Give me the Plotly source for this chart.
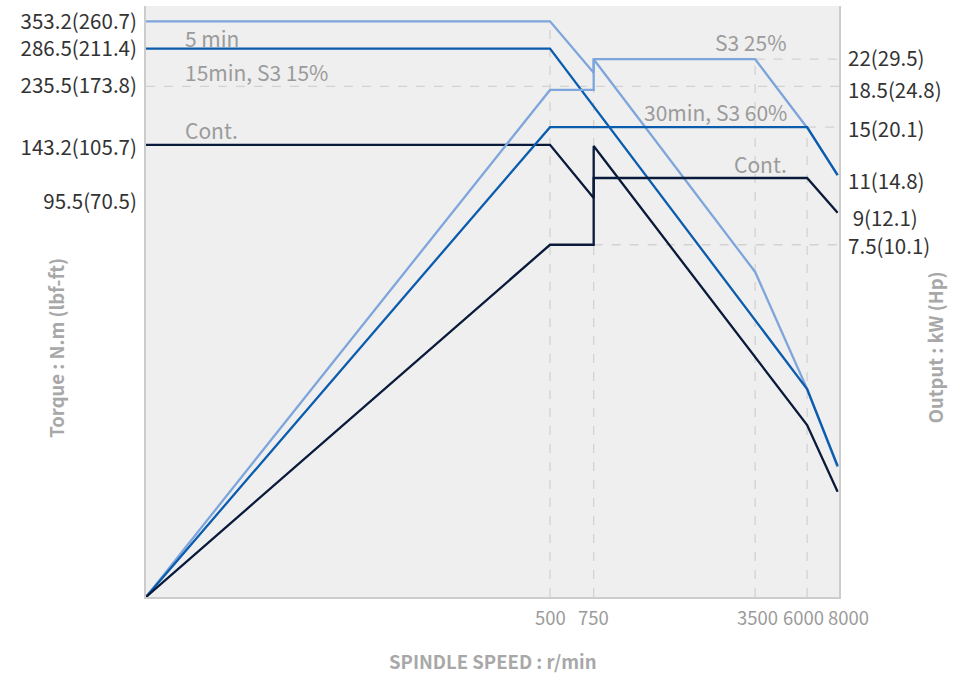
import plotly.graph_objects as go

# ---------------- data (schematic chart: values) ----------------
# Spindle speed breakpoints (r/min)
speed_ticks = [500, 750, 3500, 6000, 8000]
speed_tick_labels = ["500", "750", "3500", "6000", "8000"]

# Torque axis (left) tick labels and their heights on the chart's own 0-100 scale
torque_tick_labels = ["353.2(260.7)", "286.5(211.4)", "235.5(173.8)", "143.2(105.7)", "95.5(70.5)"]
torque_tick_levels = [97.4, 92.8, 86.5, 76.0, 66.8]

# Output axis (right) tick labels and their heights
power_tick_labels = ["22(29.5)", "18.5(24.8)", "15(20.1)", "11(14.8)", "\u00a09(12.1)", "7.5(10.1)"]
power_tick_levels = [91.0, 85.6, 79.0, 70.2, 64.0, 59.2]

# Torque curves: speeds and levels
torque_s3_25_speed = [0, 500, 750, 750, 3500, 6000, 8000]
torque_s3_25_level = [97.4, 97.4, 88.7, 91.0, 55.0, 35.2, 22.0]
torque_s3_60_speed = [0, 500, 6000, 8000]
torque_s3_60_level = [92.8, 92.8, 35.2, 22.2]
torque_cont_speed = [0, 500, 750, 750, 6000, 8000]
torque_cont_level = [76.5, 76.5, 67.5, 76.3, 29.1, 17.8]

# Output (power) curves
power_s3_25_speed = [0, 500, 750, 750, 3500, 6000, 8000]
power_s3_25_level = [0, 85.8, 85.8, 91.0, 91.0, 79.4, 71.4]
power_s3_60_speed = [0, 500, 6000, 8000]
power_s3_60_level = [0, 79.5, 79.5, 71.4]
power_cont_speed = [0, 500, 750, 750, 6000, 8000]
power_cont_level = [0, 59.6, 59.6, 70.9, 70.9, 65.0]

# ---------------- schematic speed axis ----------------
# position of each speed along the (non-linear, schematic) horizontal axis, 0-100
AXIS_POS = {0: 0.0, 500: 58.3, 750: 64.6, 3500: 87.9, 6000: 95.4, 8000: 99.8}


def pos(speeds):
    return [AXIS_POS[s] for s in speeds]


LIGHT = "#7ea6dc"
MID = "#0b5cad"
DARK = "#0a1a3a"
GRID = "#d2d2d2"
FONT = "Noto Sans CJK KR"

fig = go.Figure()

curves = [
    (torque_s3_25_speed, torque_s3_25_level, LIGHT, "y"),
    (power_s3_25_speed, power_s3_25_level, LIGHT, "y2"),
    (torque_s3_60_speed, torque_s3_60_level, MID, "y"),
    (power_s3_60_speed, power_s3_60_level, MID, "y2"),
    (torque_cont_speed, torque_cont_level, DARK, "y"),
    (power_cont_speed, power_cont_level, DARK, "y2"),
]
for sp, lv, col, ax in curves:
    fig.add_trace(go.Scatter(x=pos(sp), y=lv, mode="lines", yaxis=ax,
                             line=dict(color=col, width=2.3),
                             showlegend=False, hoverinfo="skip"))

# dashed guide lines
shapes = []
for s, top in [(500, 97.4), (750, 91.0), (3500, 91.0), (6000, 79.5)]:
    shapes.append(dict(type="line", xref="x", yref="y", x0=AXIS_POS[s], x1=AXIS_POS[s],
                       y0=0, y1=top, line=dict(color=GRID, width=1.3, dash="dash"), layer="below"))
for x0, lvl in [(0, 86.4), (AXIS_POS[750], 91.0), (AXIS_POS[6000], 79.5), (AXIS_POS[750], 59.6)]:
    shapes.append(dict(type="line", xref="x", yref="y", x0=x0, x1=100,
                       y0=lvl, y1=lvl, line=dict(color=GRID, width=1.3, dash="dash"), layer="below"))

annotations = []
lab_font = dict(family=FONT, size=21, color="#9b9b9b")
for text, x, y, anchor in [
    ("5 min", 5.3, 94.6, "left"),
    ("15min, S3 15%", 5.3, 88.8, "left"),
    ("Cont.", 5.3, 79.0, "left"),
    ("S3 25%", 92.8, 93.9, "right"),
    ("30min, S3 60%", 92.8, 82.1, "right"),
    ("Cont.", 92.8, 73.3, "right"),
]:
    annotations.append(dict(text=text, x=x, y=y, xref="x", yref="y", xanchor=anchor,
                            yanchor="middle", showarrow=False, font=lab_font))

# speed tick labels (nudged sideways so they do not overlap)
nudges = [0, 0, 2, -4, 11]
for s, t, dx in zip(speed_ticks, speed_tick_labels, nudges):
    annotations.append(dict(text=t, x=AXIS_POS[s], y=0, xref="x", yref="paper",
                            xanchor="center", yanchor="middle", yshift=-20, xshift=dx,
                            showarrow=False, font=dict(family=FONT, size=18.5, color="#9b9b9b")))

title_font = dict(family=FONT, size=18.5, color="#a8a8a8")
annotations.append(dict(text="<b>SPINDLE SPEED : r/min</b>", x=0.5, y=-0.108, xref="paper", yref="paper",
                        showarrow=False, font=title_font, xanchor="center", yanchor="middle"))
annotations.append(dict(text="<b>Torque : N.m (lbf-ft)</b>", x=-0.129, y=0.421, xref="paper", yref="paper",
                        showarrow=False, font=title_font, textangle=-90, xanchor="center", yanchor="middle"))
annotations.append(dict(text="<b>Output : kW (Hp)</b>", x=1.139, y=0.423, xref="paper", yref="paper",
                        showarrow=False, font=title_font, textangle=-90, xanchor="center", yanchor="middle"))

fig.update_layout(
    width=966, height=677,
    margin=dict(l=146, r=127, t=6, b=80),
    paper_bgcolor="white",
    plot_bgcolor="#efefef",
    font=dict(family=FONT),
    shapes=shapes,
    annotations=annotations,
    xaxis=dict(range=[0, 100], showgrid=False, zeroline=False, showticklabels=False,
               showline=True, linecolor="#cccccc", linewidth=2, fixedrange=True),
    yaxis=dict(range=[0, 100], showgrid=False, zeroline=False,
               tickvals=torque_tick_levels, ticktext=torque_tick_labels,
               tickfont=dict(family=FONT, size=20.5, color="#333333"),
               ticks="outside", ticklen=3, tickcolor="rgba(0,0,0,0)",
               showline=True, linecolor="#cccccc", linewidth=2),
    yaxis2=dict(range=[0, 100], overlaying="y", side="right", showgrid=False, zeroline=False,
                tickvals=power_tick_levels, ticktext=power_tick_labels,
                tickfont=dict(family=FONT, size=20.5, color="#333333"),
                ticks="outside", ticklen=3, tickcolor="rgba(0,0,0,0)",
                showline=True, linecolor="#cccccc", linewidth=2),
)

fig.write_html("out.html", config={"displayModeBar": False},
               post_script="document.body.style.margin='0';")
